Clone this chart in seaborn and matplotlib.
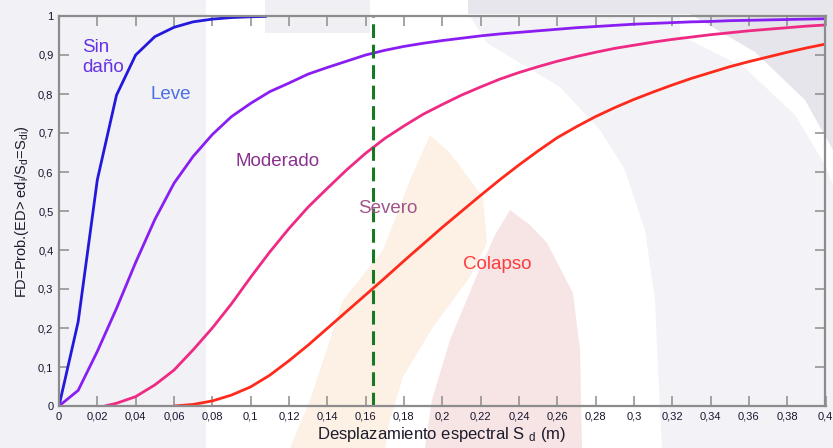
import matplotlib
matplotlib.use("Agg")
import matplotlib.pyplot as plt
from matplotlib.patches import Polygon
import seaborn as sns
import pandas as pd

# Curvas de fragilidad: desplazamiento espectral Sd (m) y probabilidad de excedencia
sd_sin_dano = [0.0, 0.01, 0.02, 0.03, 0.04, 0.05, 0.06, 0.07, 0.08, 0.09, 0.10, 0.108]
fd_sin_dano = [0.0, 0.216, 0.58, 0.797, 0.90, 0.947, 0.971, 0.985, 0.992, 0.996, 0.998, 0.999]

sd_leve = [0.0, 0.01, 0.02, 0.03, 0.04, 0.05, 0.06, 0.07, 0.08, 0.09, 0.10,
           0.11, 0.12, 0.13, 0.14, 0.15, 0.16, 0.17, 0.18, 0.19, 0.20,
           0.21, 0.22, 0.23, 0.24, 0.25, 0.26, 0.27, 0.28, 0.29, 0.30,
           0.31, 0.32, 0.33, 0.34, 0.35, 0.36, 0.37, 0.38, 0.39, 0.40]
fd_leve = [0.0, 0.04, 0.14, 0.25, 0.368, 0.478, 0.571, 0.64, 0.696, 0.742, 0.776,
           0.806, 0.828, 0.851, 0.868, 0.884, 0.90, 0.912, 0.922, 0.93, 0.937,
           0.943, 0.949, 0.954, 0.958, 0.962, 0.966, 0.970, 0.973, 0.976, 0.979,
           0.981, 0.983, 0.985, 0.986, 0.988, 0.989, 0.990, 0.991, 0.992, 0.993]

sd_moderado = [0.024, 0.03, 0.04, 0.05, 0.06, 0.07, 0.08, 0.09, 0.10, 0.11, 0.12,
               0.13, 0.14, 0.15, 0.16, 0.17, 0.18, 0.19, 0.20,
               0.21, 0.22, 0.23, 0.24, 0.25, 0.26, 0.27, 0.28, 0.29, 0.30,
               0.31, 0.32, 0.33, 0.34, 0.35, 0.36, 0.37, 0.38, 0.39, 0.40]
fd_moderado = [0.0, 0.007, 0.024, 0.054, 0.092, 0.144, 0.20, 0.262, 0.33, 0.395, 0.455,
               0.51, 0.558, 0.605, 0.648, 0.686, 0.718, 0.748, 0.773,
               0.797, 0.818, 0.838, 0.855, 0.870, 0.884, 0.896, 0.907, 0.917, 0.925,
               0.933, 0.940, 0.946, 0.952, 0.957, 0.962, 0.966, 0.970, 0.974, 0.977]

sd_colapso = [0.06, 0.07, 0.08, 0.09, 0.10, 0.11, 0.12, 0.13, 0.14, 0.15, 0.16,
              0.17, 0.18, 0.19, 0.20, 0.21, 0.22, 0.23, 0.24, 0.25, 0.26,
              0.27, 0.28, 0.29, 0.30, 0.31, 0.32, 0.33, 0.34, 0.35, 0.36,
              0.37, 0.38, 0.39, 0.40]
fd_colapso = [0.0, 0.004, 0.013, 0.028, 0.049, 0.079, 0.116, 0.156, 0.199, 0.242, 0.285,
              0.328, 0.372, 0.415, 0.458, 0.499, 0.54, 0.58, 0.618, 0.654, 0.688,
              0.716, 0.742, 0.765, 0.786, 0.805, 0.823, 0.840, 0.855, 0.870, 0.883,
              0.895, 0.907, 0.918, 0.928]

# Desplazamiento de demanda (línea vertical)
sd_demanda = 0.164

estados = ["Sin daño", "Leve", "Moderado", "Colapso"]
x_ticks = [i * 0.02 for i in range(21)]
y_ticks = [i * 0.1 for i in range(11)]

colores_linea = {"Sin daño": "#2418dc", "Leve": "#8a1ef2",
                 "Moderado": "#ef2a84", "Colapso": "#ff2a1c"}

df = pd.concat([
    pd.DataFrame({"sd": sd_sin_dano, "fd": fd_sin_dano, "estado": "Sin daño"}),
    pd.DataFrame({"sd": sd_leve, "fd": fd_leve, "estado": "Leve"}),
    pd.DataFrame({"sd": sd_moderado, "fd": fd_moderado, "estado": "Moderado"}),
    pd.DataFrame({"sd": sd_colapso, "fd": fd_colapso, "estado": "Colapso"}),
], ignore_index=True)

sns.set_style("ticks")
plt.rcParams["font.family"] = ["Liberation Sans", "DejaVu Sans"]
plt.rcParams["mathtext.default"] = "regular"

W, H = 833, 448
fig = plt.figure(figsize=(W / 100, H / 100), dpi=100, facecolor="white")


def fig_pts(points):
    return [(x / W, 1 - y / H) for x, y in points]


# Fondo decorativo (marca de agua)
fondo = [
    ([(0, 0), (206, 0), (206, 448), (0, 448)], "#f1f1f6"),
    ([(265, 0), (370, 0), (370, 33), (265, 33)], "#f0f0f4"),
    ([(468, 0), (833, 0), (833, 14), (468, 14)], "#e6e6ec"),
    ([(470, 16), (680, 16), (680, 35), (745, 68), (795, 115), (825, 165), (833, 185),
      (833, 448), (662, 448), (660, 410), (655, 300), (645, 230), (625, 170),
      (600, 130), (560, 87), (487, 43)], "#f3f3f7"),
    ([(690, 14), (833, 14), (833, 150), (805, 100), (755, 52)], "#e5e5eb"),
    ([(430, 135), (450, 153), (483, 197), (487, 243), (470, 277), (433, 327),
      (403, 377), (390, 420), (385, 448), (290, 448), (310, 400), (343, 300),
      (383, 250), (410, 180)], "#fdf1e6"),
    ([(510, 210), (530, 225), (547, 243), (573, 293), (580, 350), (582, 448),
      (425, 448), (432, 400), (450, 340), (475, 280), (495, 235)], "#f7e4e5"),
]
for pts, col in fondo:
    fig.patches.append(Polygon(fig_pts(pts), closed=True, transform=fig.transFigure,
                               facecolor=col, edgecolor="none", zorder=-10))

ax = fig.add_axes([59 / W, 42 / H, 766.5 / W, 390 / H])
ax.set_facecolor("none")

sns.lineplot(data=df, x="sd", y="fd", hue="estado", hue_order=estados,
             palette=colores_linea, estimator=None, sort=False, legend=False,
             linewidth=2.0, ax=ax)

ax.axvline(sd_demanda, color="#187a20", linewidth=2.2, linestyle=(0, (4.5, 2.2)))

ax.set_xlim(0, 0.4)
ax.set_ylim(0, 1)
ax.set_xticks(x_ticks)
ax.set_yticks(y_ticks)


def coma(v):
    return f"{round(v, 2):g}".replace(".", ",")


ax.set_xticklabels([coma(v) for v in x_ticks])
ax.set_yticklabels([coma(v) for v in y_ticks])
ax.set_xlabel("")
ax.set_ylabel("")

for s in ax.spines.values():
    s.set_color("#8c8c8c")
    s.set_linewidth(1.6)
ax.tick_params(direction="in", length=7.5, width=1.1, color="#8c8c8c",
               top=True, right=True, labelsize=8, labelcolor="#16162e", pad=4)

# Etiquetas de los estados de daño
etiquetas = [
    ("Sin", 0.012, 0.908, "#6630e6"),
    ("daño", 0.012, 0.856, "#6630e6"),
    ("Leve", 0.048, 0.787, "#4c6ee8"),
    ("Moderado", 0.092, 0.615, "#8a3090"),
    ("Severo", 0.156, 0.495, "#a0568a"),
    ("Colapso", 0.211, 0.352, "#ff3a3a"),
]
for txt, x, y, col in etiquetas:
    ax.text(x, y, txt, color=col, fontsize=13.5, ha="left", va="baseline")

fig.text(442 / W, 1 - 434 / H, "Desplazamiento espectral S $_{d}$ (m)",
         ha="center", va="center", fontsize=12, color="#1c1c2c")
fig.text(22 / W, 1 - 212 / H, "FD=Prob.(ED> ed$_{i}$/S$_{d}$=S$_{di}$)",
         ha="center", va="center", rotation=90, fontsize=10.5, color="#1c1c2c")

fig.savefig("out.png", dpi=100, facecolor=fig.get_facecolor())
